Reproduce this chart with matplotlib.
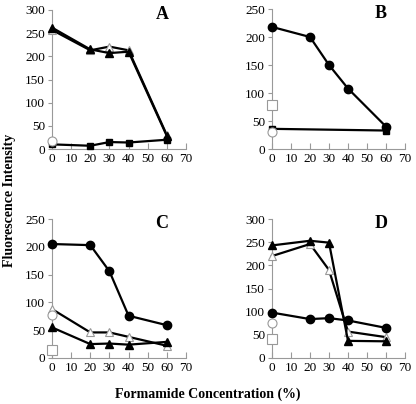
import matplotlib
matplotlib.use('Agg')
import matplotlib.pyplot as plt

plt.rcParams['font.family'] = 'Liberation Serif'

x = [0, 20, 30, 40, 60]

# panel A
a_tri_fill = [262, 215, 207, 210, 28]
a_tri_open = [257, 213, 221, 213, 30]
a_sq_fill = [10, 7, 15, 14, 20]
a_circ_open0 = 17

# panel B
b_circ_fill = [218, 200, 150, 108, 40]
b_sq_fill = [36, None, None, None, 33]
b_sq_open0 = 78
b_circ_open0 = 31

# panel C
c_circ_fill = [205, 203, 156, 76, 59]
c_tri_open = [88, 46, 46, 38, 22]
c_tri_fill = [55, 25, 26, 24, 29]
c_circ_open0 = 77
c_sq_open0 = 15

# panel D
d_tri_fill = [243, 253, 249, 37, 36]
d_tri_open = [220, 246, 190, 57, 45]
d_circ_fill = [98, 84, 86, 81, 65]
d_circ_open0 = 75
d_sq_open0 = 40

GRAY = '#999999'

fig = plt.figure(figsize=(4.16, 4.04), dpi=100)
W, H = 416, 404

def make_ax(l, r, top, bot, ymax, label):
    ax = fig.add_axes([l / W, 1 - bot / H, (r - l) / W, (bot - top) / H])
    ax.set_xlim(0, 70)
    ax.set_ylim(0, ymax)
    ax.set_xticks(range(0, 71, 10))
    ax.set_yticks(range(0, ymax + 1, 50))
    for s in ['top', 'right']:
        ax.spines[s].set_visible(False)
    for s in ['left', 'bottom']:
        ax.spines[s].set_color(GRAY)
        ax.spines[s].set_linewidth(0.8)
    ax.tick_params(axis='x', direction='in', length=4, color=GRAY, labelsize=9.5, pad=3)
    ax.tick_params(axis='y', direction='out', length=3, color=GRAY, labelsize=9.5, pad=2)
    ax.text(0.82, 0.97, label, transform=ax.transAxes, fontsize=13,
            fontweight='bold', ha='center', va='center')
    return ax

def line(ax, y, marker, filled, ms=5.5):
    xs = [xi for xi, yi in zip(x, y) if yi is not None]
    ys = [yi for yi in y if yi is not None]
    if filled:
        ax.plot(xs, ys, '-', color='black', lw=1.6, marker=marker, ms=ms,
                mfc='black', mec='black', clip_on=False, zorder=3)
    else:
        ax.plot(xs, ys, '-', color='black', lw=1.6, marker=marker, ms=ms,
                mfc='white', mec=GRAY, mew=0.8, clip_on=False, zorder=3)

def single(ax, y, marker):
    ax.plot([0], [y], marker=marker, ms=6.5, mfc='white', mec=GRAY, mew=0.8,
            ls='none', clip_on=False, zorder=4)

axA = make_ax(52, 186, 10, 149, 300, 'A')
line(axA, a_tri_open, '^', False, 6)
line(axA, a_tri_fill, '^', True)
line(axA, a_sq_fill, 's', True, 5)
single(axA, a_circ_open0, 'o')

axB = make_ax(272, 405, 9, 149, 250, 'B')
line(axB, b_circ_fill, 'o', True, 6)
line(axB, b_sq_fill, 's', True, 5)
single(axB, b_sq_open0, 's')
single(axB, b_circ_open0, 'o')

axC = make_ax(52, 186, 219, 358, 250, 'C')
line(axC, c_circ_fill, 'o', True, 6)
line(axC, c_tri_open, '^', False, 6)
line(axC, c_tri_fill, '^', True)
single(axC, c_circ_open0, 'o')
single(axC, c_sq_open0, 's')

axD = make_ax(272, 405, 219, 358, 300, 'D')
line(axD, d_tri_open, '^', False, 6)
line(axD, d_tri_fill, '^', True)
line(axD, d_circ_fill, 'o', True, 6)
single(axD, d_circ_open0, 'o')
single(axD, d_sq_open0, 's')

fig.text(10 / W, 1 - 200 / H, 'Fluorescence Intensity', rotation=90,
         fontsize=10, fontweight='bold', ha='center', va='center')
fig.text(208 / W, 1 - 394 / H, 'Formamide Concentration (%)',
         fontsize=10, fontweight='bold', ha='center', va='center')

fig.savefig('out.png', dpi=100)
